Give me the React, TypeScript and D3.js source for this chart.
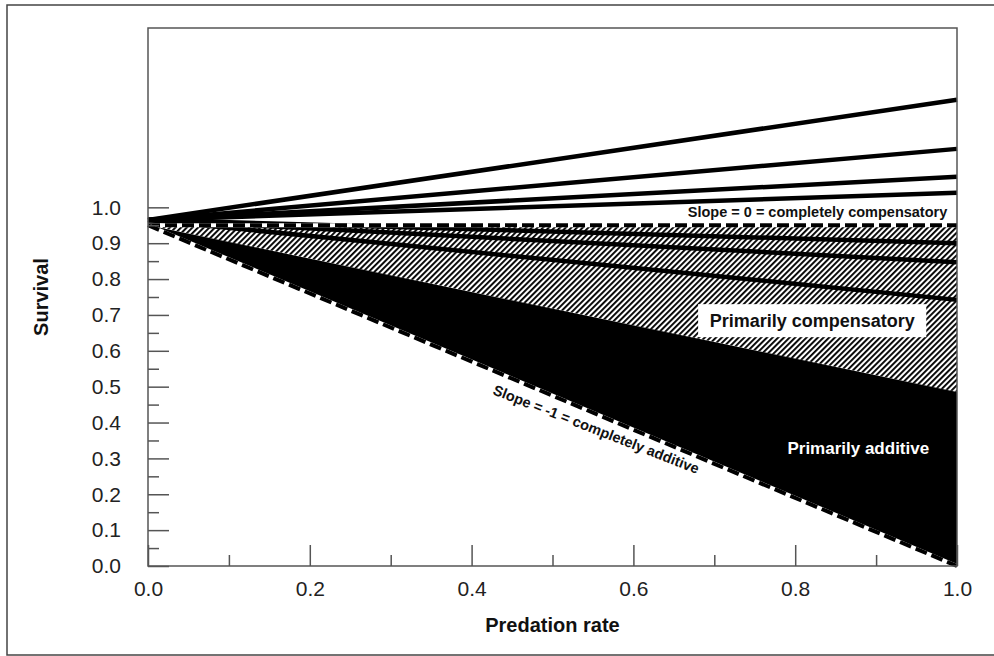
import { useEffect, useRef } from "react";
import * as d3 from "d3";

// survival at predation rate 0 for the fan of lines, and where each line ends at rate 1.0
const lineStart = 0.965;
const lineEnds = [1.3, 1.163, 1.085, 1.041, 0.9, 0.847, 0.742];

// region boundaries (survival at rate 0 and rate 1)
const baseSurvival = 0.95;
const compensatoryEnd = 0.95; // slope = 0
const boundaryEnd = 0.485; // split between hatched and black
const additiveEnd = 0; // slope = -1

const xMajor = [0, 0.2, 0.4, 0.6, 0.8, 1.0];
const xMinor = [0.1, 0.3, 0.5, 0.7, 0.9];
const yMajor = [0, 0.1, 0.2, 0.3, 0.4, 0.5, 0.6, 0.7, 0.8, 0.9, 1.0];
const yMinor = [0.05, 0.15, 0.25, 0.35, 0.45, 0.55, 0.65, 0.75, 0.85, 0.95];

const W = 994;
const H = 656;
const m = { left: 148, right: 37, top: 28, bottom: 90 };
const FONT = "Liberation Sans, Arial, sans-serif";

function App() {
  const svgRef = useRef<SVGSVGElement>(null);

  useEffect(() => {
    const svg = d3.select(svgRef.current);
    svg.selectAll("*").remove();

    const x = d3.scaleLinear().domain([0, 1]).range([m.left, W - m.right]);
    const y = d3.scaleLinear().domain([0, 1.5]).range([H - m.bottom, m.top]);

    // hatch pattern
    const defs = svg.append("defs");
    const pat = defs
      .append("pattern")
      .attr("id", "hatch")
      .attr("patternUnits", "userSpaceOnUse")
      .attr("width", 4)
      .attr("height", 4)
      .attr("patternTransform", "rotate(45)");
    pat.append("rect").attr("width", 4).attr("height", 4).attr("fill", "#fff");
    pat.append("rect").attr("width", 1.9).attr("height", 4).attr("fill", "#000");

    // outer frame
    svg
      .append("rect")
      .attr("x", 7)
      .attr("y", 5)
      .attr("width", W + 10)
      .attr("height", 650)
      .attr("fill", "none")
      .attr("stroke", "#444")
      .attr("stroke-width", 1.5);

    const area = d3
      .line<[number, number]>()
      .x((d) => x(d[0]))
      .y((d) => y(d[1]));

    // primarily compensatory (hatched)
    svg
      .append("path")
      .attr("d", area([[0, baseSurvival], [1, compensatoryEnd], [1, boundaryEnd]]) + "Z")
      .attr("fill", "url(#hatch)");

    // primarily additive (black)
    svg
      .append("path")
      .attr("d", area([[0, baseSurvival], [1, boundaryEnd], [1, additiveEnd]]) + "Z")
      .attr("fill", "#000");

    // fan of solid lines
    svg
      .selectAll(".fan")
      .data(lineEnds)
      .join("path")
      .attr("class", "fan")
      .attr("d", (e) => area([[0, lineStart], [1, e]]))
      .attr("stroke", "#000")
      .attr("stroke-width", 4.5)
      .attr("fill", "none");

    // dashed reference lines (black dashes, white gaps)
    const dashed = [
      [[0, baseSurvival], [1, compensatoryEnd]],
      [[0, baseSurvival], [1, additiveEnd]],
    ] as [number, number][][];
    dashed.forEach((pts) => {
      svg
        .append("path")
        .attr("d", area(pts))
        .attr("stroke", "#fff")
        .attr("stroke-width", 4)
        .attr("fill", "none");
      svg
        .append("path")
        .attr("d", area(pts))
        .attr("stroke", "#000")
        .attr("stroke-width", 4)
        .attr("stroke-dasharray", "12 5")
        .attr("fill", "none");
    });

    // labels
    svg
      .append("text")
      .attr("x", x(0.988))
      .attr("y", y(0.95) - 8)
      .attr("text-anchor", "end")
      .attr("font-family", FONT)
      .attr("font-weight", "bold")
      .attr("font-size", 14.5)
      .attr("fill", "#111")
      .text("Slope = 0 = completely compensatory");

    svg
      .append("rect")
      .attr("x", x(0.68))
      .attr("y", y(0.73))
      .attr("width", x(0.962) - x(0.68))
      .attr("height", y(0.638) - y(0.73))
      .attr("fill", "#fff");
    svg
      .append("text")
      .attr("x", x(0.821))
      .attr("y", y(0.666))
      .attr("text-anchor", "middle")
      .attr("font-family", FONT)
      .attr("font-weight", "bold")
      .attr("font-size", 18)
      .attr("fill", "#111")
      .text("Primarily compensatory");

    svg
      .append("text")
      .attr("x", x(0.878))
      .attr("y", y(0.313))
      .attr("text-anchor", "middle")
      .attr("font-family", FONT)
      .attr("font-weight", "bold")
      .attr("font-size", 17)
      .attr("fill", "#fff")
      .text("Primarily additive");

    const p0 = 0.435;
    const angle =
      (Math.atan2(y(additiveEnd) - y(baseSurvival), x(1) - x(0)) * 180) / Math.PI;
    svg
      .append("text")
      .attr(
        "transform",
        `translate(${x(p0)},${y(baseSurvival + (additiveEnd - baseSurvival) * p0)}) rotate(${angle - 1.5})`
      )
      .attr("x", 0)
      .attr("y", 22)
      .attr("font-family", FONT)
      .attr("font-weight", "bold")
      .attr("font-size", 14.5)
      .attr("fill", "#111")
      .text("Slope = -1 = completely additive");

    // axes with inward ticks
    const axisColor = "#555";
    const style = (g: d3.Selection<SVGGElement, unknown, null, undefined>) => {
      g.select(".domain").remove();
      g.selectAll("line").attr("stroke", axisColor).attr("stroke-width", 1.5);
      g.selectAll("text")
        .attr("font-family", FONT)
        .attr("font-size", 21)
        .attr("fill", "#222");
    };

    svg
      .append("g")
      .attr("transform", `translate(0,${y(0)})`)
      .call(d3.axisBottom(x).tickValues(xMajor).tickSize(-21).tickPadding(15).tickFormat(d3.format(".1f")))
      .call(style);
    svg
      .append("g")
      .attr("transform", `translate(0,${y(0)})`)
      .call(d3.axisBottom(x).tickValues(xMinor).tickSize(-11).tickFormat(() => ""))
      .call(style);
    svg
      .append("g")
      .attr("transform", `translate(${x(0)},0)`)
      .call(d3.axisLeft(y).tickValues(yMajor).tickSize(-21).tickPadding(27).tickFormat(d3.format(".1f")))
      .call(style);
    svg
      .append("g")
      .attr("transform", `translate(${x(0)},0)`)
      .call(d3.axisLeft(y).tickValues(yMinor).tickSize(-11).tickFormat(() => ""))
      .call(style);

    // plot frame
    svg
      .append("rect")
      .attr("x", x(0))
      .attr("y", y(1.5))
      .attr("width", x(1) - x(0))
      .attr("height", y(0) - y(1.5))
      .attr("fill", "none")
      .attr("stroke", axisColor)
      .attr("stroke-width", 1.5);

    // axis titles
    svg
      .append("text")
      .attr("x", (x(0) + x(1)) / 2)
      .attr("y", 632)
      .attr("text-anchor", "middle")
      .attr("font-family", FONT)
      .attr("font-weight", "bold")
      .attr("font-size", 20)
      .attr("fill", "#111")
      .text("Predation rate");
    svg
      .append("text")
      .attr("transform", `translate(48,${y(0.75)}) rotate(-90)`)
      .attr("text-anchor", "middle")
      .attr("font-family", FONT)
      .attr("font-weight", "bold")
      .attr("font-size", 20)
      .attr("fill", "#111")
      .text("Survival");
  }, []);

  return (
    <svg
      ref={svgRef}
      width={W}
      height={H}
      style={{ position: "absolute", left: 0, top: 0, background: "#fff" }}
    />
  );
}

export default App;
